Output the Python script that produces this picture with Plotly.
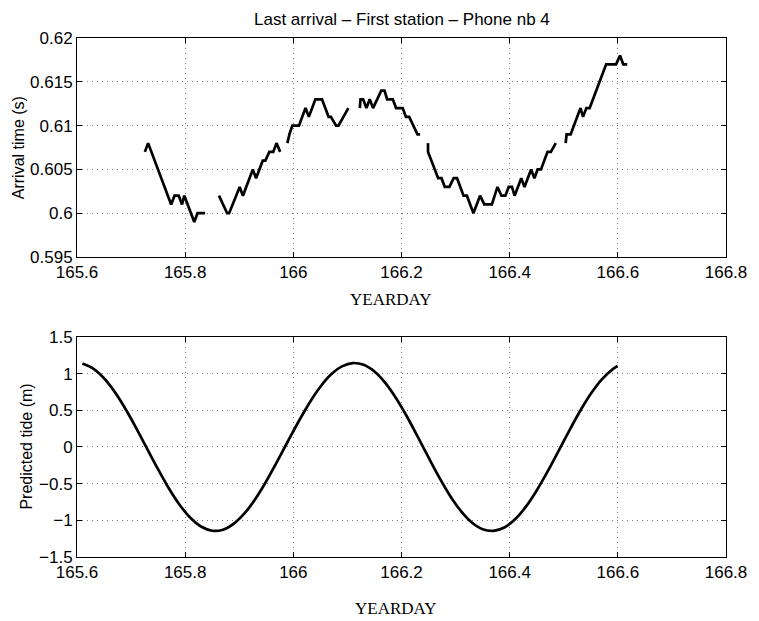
import plotly.graph_objects as go

# ---------------- Data: arrival time segments (yearday, seconds) ----------------
seg1_x = [165.7255, 165.7315, 165.7741, 165.7803, 165.7881, 165.7942, 165.7985, 165.8168, 165.8228, 165.8369]
seg1_y = [0.607, 0.608, 0.601, 0.602, 0.602, 0.601, 0.602, 0.599, 0.600, 0.600]

seg2_x = [165.8625, 165.8776, 165.8813, 165.9008, 165.9068, 165.9251, 165.9311, 165.9434, 165.9483,
          165.9556, 165.9629, 165.9689, 165.9757]
seg2_y = [0.602, 0.600, 0.600, 0.603, 0.602, 0.605, 0.604, 0.606, 0.606, 0.607, 0.607, 0.608, 0.607]

seg3_x = [165.9890, 165.9927, 165.9982, 166.0104, 166.0225, 166.0287, 166.0407, 166.0530, 166.0652,
          166.0694, 166.0791, 166.0835, 166.1017]
seg3_y = [0.608, 0.609, 0.610, 0.610, 0.612, 0.611, 0.613, 0.613, 0.611, 0.611, 0.610, 0.610, 0.612]

seg4_x = [166.1229, 166.1242, 166.1291, 166.1352, 166.1412, 166.1474, 166.1626, 166.1686, 166.1735,
          166.1839, 166.1900, 166.2022, 166.2082, 166.2142, 166.2296, 166.2344]
seg4_y = [0.612, 0.613, 0.613, 0.612, 0.613, 0.612, 0.614, 0.614, 0.613, 0.613, 0.612, 0.612, 0.611,
          0.611, 0.609, 0.609]

seg5_x = [166.2490, 166.2491, 166.2678, 166.2740, 166.2800, 166.2886, 166.2964, 166.3027, 166.3147,
          166.3209, 166.3330, 166.3452, 166.3531, 166.3671, 166.3775, 166.3848, 166.3921, 166.3982,
          166.4042, 166.4091, 166.4214, 166.4274, 166.4396, 166.4457, 166.4517, 166.4579, 166.4700,
          166.4762, 166.4853]
seg5_y = [0.608, 0.607, 0.604, 0.604, 0.603, 0.603, 0.604, 0.604, 0.602, 0.602, 0.600, 0.602, 0.601,
          0.601, 0.603, 0.602, 0.602, 0.603, 0.603, 0.602, 0.604, 0.603, 0.605, 0.604, 0.605, 0.605,
          0.607, 0.607, 0.608]

seg6_x = [166.5035, 166.5053, 166.5127, 166.5310, 166.5357, 166.5419, 166.5479, 166.5784, 166.5967,
          166.6040, 166.6100, 166.6174]
seg6_y = [0.608, 0.609, 0.609, 0.612, 0.611, 0.612, 0.612, 0.617, 0.617, 0.618, 0.617, 0.617]

# ---------------- Data: predicted tide (yearday, metres), read every 0.02 day ----------------
tide_x = [165.61, 165.63, 165.65, 165.67, 165.69, 165.71, 165.73, 165.75, 165.77, 165.79,
          165.81, 165.83, 165.85, 165.87, 165.89, 165.91, 165.93, 165.95, 165.97, 165.99,
          166.01, 166.03, 166.05, 166.07, 166.09, 166.11, 166.13, 166.15, 166.17, 166.19,
          166.21, 166.23, 166.25, 166.27, 166.29, 166.31, 166.33, 166.35, 166.37, 166.39,
          166.41, 166.43, 166.45, 166.47, 166.49, 166.51, 166.53, 166.55, 166.57, 166.59,
          166.5996]
tide_y = [1.137, 1.069, 0.937, 0.748, 0.515, 0.251, -0.029, -0.306, -0.566, -0.791,
          -0.969, -1.088, -1.142, -1.128, -1.046, -0.903, -0.706, -0.467, -0.201, 0.078,
          0.351, 0.604, 0.821, 0.990, 1.099, 1.144, 1.120, 1.028, 0.873, 0.664,
          0.415, 0.140, -0.143, -0.418, -0.667, -0.874, -1.029, -1.121, -1.144, -1.098,
          -0.986, -0.814, -0.593, -0.337, -0.061, 0.220, 0.487, 0.725, 0.919, 1.058,
          1.105]

x_ticks = [165.6, 165.8, 166.0, 166.2, 166.4, 166.6, 166.8]
x_ticktext = ["165.6", "165.8", "166", "166.2", "166.4", "166.6", "166.8"]
top_yticks = [0.595, 0.6, 0.605, 0.61, 0.615, 0.62]
top_yticktext = ["0.595", "0.6", "0.605", "0.61", "0.615", "0.62"]
bot_yticks = [-1.5, -1, -0.5, 0, 0.5, 1, 1.5]
bot_yticktext = ["\u22121.5", "\u22121", "\u22120.5", "0", "0.5", "1", "1.5"]

# ---------------- Build ----------------
segments = [(seg1_x, seg1_y), (seg2_x, seg2_y), (seg3_x, seg3_y),
            (seg4_x, seg4_y), (seg5_x, seg5_y), (seg6_x, seg6_y)]
arr_x, arr_y = [], []
for sx, sy in segments:
    arr_x += list(sx) + [None]
    arr_y += list(sy) + [None]

FONT = "Liberation Sans, Arial, Helvetica, sans-serif"
SERIF = "Liberation Serif, Times New Roman, serif"

fig = go.Figure()
fig.add_trace(go.Scatter(x=arr_x, y=arr_y, mode="lines", connectgaps=False,
                         line=dict(color="black", width=2.7), xaxis="x", yaxis="y",
                         showlegend=False, hoverinfo="skip"))
fig.add_trace(go.Scatter(x=tide_x, y=tide_y, mode="lines",
                         line=dict(color="black", width=2.7, shape="spline", smoothing=0.8),
                         xaxis="x2", yaxis="y2", showlegend=False, hoverinfo="skip"))

axis_common = dict(showline=True, linecolor="black", linewidth=1, mirror="ticks",
                   ticks="inside", ticklen=5, tickcolor="black", showgrid=True,
                   gridcolor="#7a7a7a", griddash="1px,4px", gridwidth=1, zeroline=False,
                   tickfont=dict(family=FONT, size=17, color="black"))

fig.update_layout(
    width=759, height=621,
    margin=dict(l=77, r=25, t=38, b=64),
    paper_bgcolor="white", plot_bgcolor="white",
    font=dict(family=FONT, size=17, color="black"),
    xaxis=dict(domain=[0, 1], anchor="y", range=[165.6, 166.8], tickvals=x_ticks,
               ticktext=x_ticktext, **axis_common),
    yaxis=dict(domain=[0.578, 1.0], anchor="x", range=[0.595, 0.62], tickvals=top_yticks,
               ticktext=top_yticktext, **axis_common),
    xaxis2=dict(domain=[0, 1], anchor="y2", range=[165.6, 166.8], tickvals=x_ticks,
                ticktext=x_ticktext, **axis_common),
    yaxis2=dict(domain=[0, 0.424], anchor="x2", range=[-1.5, 1.5], tickvals=bot_yticks,
                ticktext=bot_yticktext, **axis_common),
    annotations=[
        dict(text="Last arrival \u2013 First station \u2013 Phone nb 4", x=0.5, y=1.0366,
             xref="paper", yref="paper", xanchor="center", yanchor="middle", showarrow=False,
             font=dict(family=FONT, size=17, color="black")),
        dict(text="YEARDAY", x=0.484, y=0.4952, xref="paper", yref="paper",
             xanchor="center", yanchor="middle", showarrow=False,
             font=dict(family=SERIF, size=17, color="black")),
        dict(text="YEARDAY", x=0.4916, y=-0.0983, xref="paper", yref="paper",
             xanchor="center", yanchor="middle", showarrow=False,
             font=dict(family=SERIF, size=17, color="black")),
        dict(text="Arrival time (s)", x=-0.0898, y=0.789, xref="paper", yref="paper",
             xanchor="center", yanchor="middle", textangle=-90, showarrow=False,
             font=dict(family=FONT, size=16, color="black")),
        dict(text="Predicted tide (m)", x=-0.0776, y=0.212, xref="paper", yref="paper",
             xanchor="center", yanchor="middle", textangle=-90, showarrow=False,
             font=dict(family=FONT, size=16, color="black")),
    ],
)

fig.write_html("out.html")
